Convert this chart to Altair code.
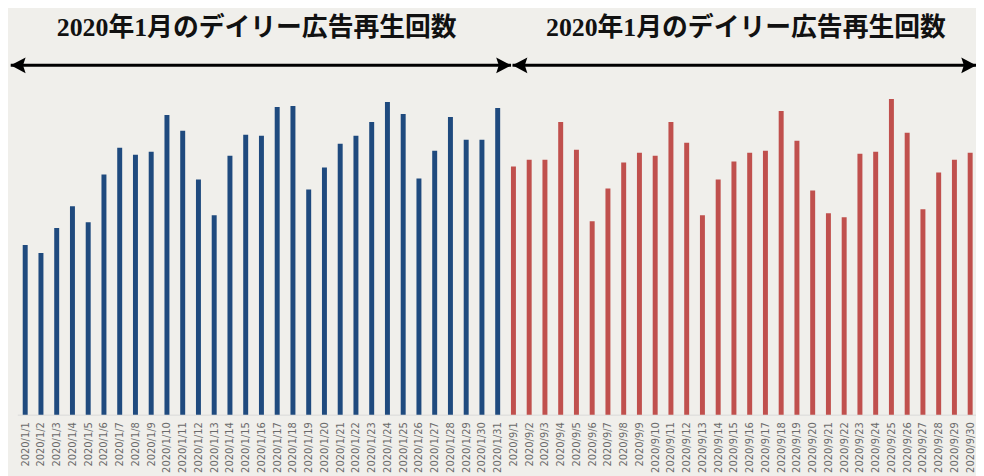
import json
import altair as alt
import pandas as pd

# ---- data -------------------------------------------------------------
jan_labels = [f"2020/1/{d}" for d in range(1, 32)]
sep_labels = [f"2020/9/{d}" for d in range(1, 31)]

jan_values = [171, 163, 188, 210, 194, 242, 269, 262, 265, 302, 286, 237, 201, 261, 282,
              281, 310, 311, 227, 249, 273, 281, 295, 315, 303, 238, 266, 300, 277, 277, 309]
sep_values = [250, 257, 257, 295, 267, 195, 228, 254, 264, 261, 295, 274, 201, 237, 255,
              264, 266, 306, 276, 226, 203, 199, 263, 265, 318, 284, 207, 244, 257, 264]

titles = ["2020年1月のデイリー広告再生回数", "2020年1月のデイリー広告再生回数"]

labels = jan_labels + sep_labels
values = jan_values + sep_values
groups = ["jan"] * len(jan_values) + ["sep"] * len(sep_values)

df = pd.DataFrame({"idx": list(range(len(labels))), "label": labels,
                   "value": values, "group": groups})

# annotation positions (in data units of the shared scales)
title_df = pd.DataFrame({"x": [14.70, 45.76], "y": [390, 390], "text": titles})
arrow_df = pd.DataFrame({"x": [-0.92, 30.94], "x2": [30.85, 60.38], "y": [352, 352]})
head_l = pd.DataFrame({"x": [-0.92, 30.94], "y": [352, 352]})
head_r = pd.DataFrame({"x": [30.85, 60.38], "y": [352, 352]})

# ---- scales -----------------------------------------------------------
xscale = alt.Scale(domain=[-0.5, 60.37], nice=False, zero=False, padding=0)
yscale = alt.Scale(domain=[0, 408], nice=False, zero=True, padding=0)

label_expr = json.dumps(labels, ensure_ascii=False) + "[datum.value]"

xaxis = alt.Axis(values=list(range(len(labels))), labelExpr=label_expr, labelAngle=270,
                 labelFont="DejaVu Sans", labelFontSize=10, labelColor="#6a6a6a",
                 labelPadding=7, ticks=False, tickSize=0, grid=False, title=None,
                 domainColor="#d9d9d9", domainWidth=1, labelOverlap=False,
                 labelFlush=False, labelBound=False)

bars = alt.Chart(df).mark_bar(size=5).encode(
    x=alt.X("idx:Q", scale=xscale, axis=xaxis),
    y=alt.Y("value:Q", scale=yscale, axis=None),
    color=alt.Color("group:N", scale=alt.Scale(domain=["jan", "sep"],
                                               range=["#1f4a7e", "#c0504d"]), legend=None),
)

lines = alt.Chart(arrow_df).mark_rule(color="black", strokeWidth=3).encode(
    x=alt.X("x:Q", scale=xscale, axis=xaxis),
    x2="x2:Q",
    y=alt.Y("y:Q", scale=yscale, axis=None),
)

left_heads = alt.Chart(head_l).mark_point(
    shape="M0,0 L1.875,-1 L1.55,0 L1.875,1 Z", filled=True, size=256,
    color="black", opacity=1, strokeWidth=0
).encode(x=alt.X("x:Q", scale=xscale, axis=xaxis), y=alt.Y("y:Q", scale=yscale, axis=None))

right_heads = alt.Chart(head_r).mark_point(
    shape="M0,0 L-1.875,-1 L-1.55,0 L-1.875,1 Z", filled=True, size=256,
    color="black", opacity=1, strokeWidth=0
).encode(x=alt.X("x:Q", scale=xscale, axis=xaxis), y=alt.Y("y:Q", scale=yscale, axis=None))

texts = alt.Chart(title_df).mark_text(
    font="Liberation Serif, Noto Sans CJK JP", fontSize=26, fontWeight="bold",
    color="#111111", align="center", baseline="middle"
).encode(x=alt.X("x:Q", scale=xscale, axis=xaxis), y=alt.Y("y:Q", scale=yscale, axis=None),
         text="text:N")

chart = alt.layer(bars, lines, left_heads, right_heads, texts).properties(
    width=966, height=408,
    padding={"left": 9.4, "top": 0, "right": 0, "bottom": 60},
    autosize=alt.AutoSizeParams(type="none"),
    background="#f0efeb",
).configure_view(stroke=None).configure_axisX(labelOverlap=False)

chart.save("out.html", embed_options={"renderer": "svg", "actions": False})
